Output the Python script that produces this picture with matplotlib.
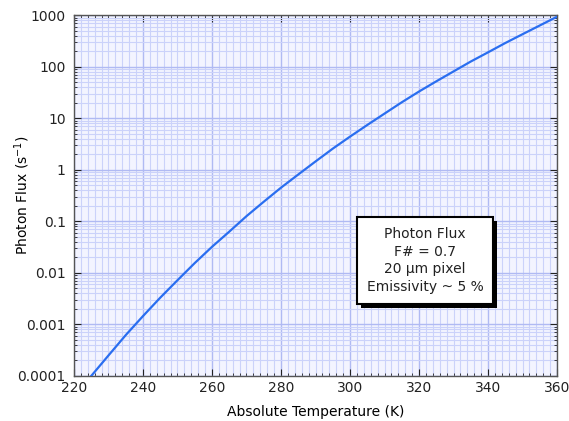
import matplotlib
matplotlib.use("Agg")
import matplotlib.pyplot as plt
import matplotlib.patheffects as pe
from matplotlib.ticker import MultipleLocator, LogLocator, NullFormatter

# temperatura (K) e fluxo de fotons (s^-1)
temperatura = [225, 230, 235, 240, 245, 250, 255, 260, 265, 270, 275, 280, 285, 290,
               295, 300, 305, 310, 315, 320, 325, 330, 335, 340, 345, 350, 355, 360]
fluxo = [1.0e-4, 2.5e-4, 6.2e-4, 1.45e-3, 3.3e-3, 7.2e-3, 1.55e-2, 3.2e-2, 6.3e-2,
         0.126, 0.24, 0.45, 0.81, 1.45, 2.57, 4.4, 7.4, 12.3, 20.4, 33, 52, 81,
         126, 190, 288, 427, 631, 933]

rotulos_y = ["0.0001", "0.001", "0.01", "0.1", "1", "10", "100", "1000"]
valores_y = [1e-4, 1e-3, 1e-2, 1e-1, 1, 10, 100, 1000]
texto_caixa = "Photon Flux\nF# = 0.7\n20 \u03bcm pixel\nEmissivity ~ 5 %"

fig = plt.figure(figsize=(5.69, 4.21), dpi=100)
ax = fig.add_axes([0.130, 0.107, 0.849, 0.857])
ax.set_facecolor("#f3f4ff")

ax.plot(temperatura, fluxo, color="#2a6ef0", lw=1.6, zorder=3)

ax.set_yscale("log")
ax.set_xlim(220, 360)
ax.set_ylim(1e-4, 1000)

ax.xaxis.set_major_locator(MultipleLocator(20))
ax.xaxis.set_minor_locator(MultipleLocator(2))
ax.set_yticks(valores_y)
ax.set_yticklabels(rotulos_y)
ax.yaxis.set_minor_locator(LogLocator(base=10, subs=range(2, 10), numticks=20))
ax.yaxis.set_minor_formatter(NullFormatter())

ax.grid(which="major", color="#b0baf3", lw=1.0, zorder=0)
ax.grid(which="minor", color="#cbd2fa", lw=0.8, zorder=0)
ax.set_axisbelow(True)

ax.tick_params(which="both", direction="in", top=True, right=True, labelsize=10,
               colors="#222222")
ax.tick_params(which="major", length=5, width=0.8)
ax.tick_params(which="minor", length=2.5, width=0.6)
ax.tick_params(axis="y", which="major", pad=6)
for s in ax.spines.values():
    s.set_color("#555555")
    s.set_linewidth(1.0)

ax.set_xlabel("Absolute Temperature (K)", fontsize=10, labelpad=7)
ax.set_ylabel("Photon Flux (s$^{-1}$)", fontsize=10)
ax.yaxis.set_label_coords(-0.087, 0.5)

# caixa de texto com sombra
caixa = ax.text(0.727, 0.32, texto_caixa, transform=ax.transAxes, ha="center", va="center",
                fontsize=10, color="#222222", linespacing=1.35, zorder=5,
                bbox=dict(boxstyle="square,pad=0.7", facecolor="white", edgecolor="black", lw=1.5))
caixa.get_bbox_patch().set_path_effects([
    pe.SimplePatchShadow(offset=(3, -3), shadow_rgbFace="black", alpha=1.0),
    pe.Normal()])

fig.savefig("out.png", dpi=100)
